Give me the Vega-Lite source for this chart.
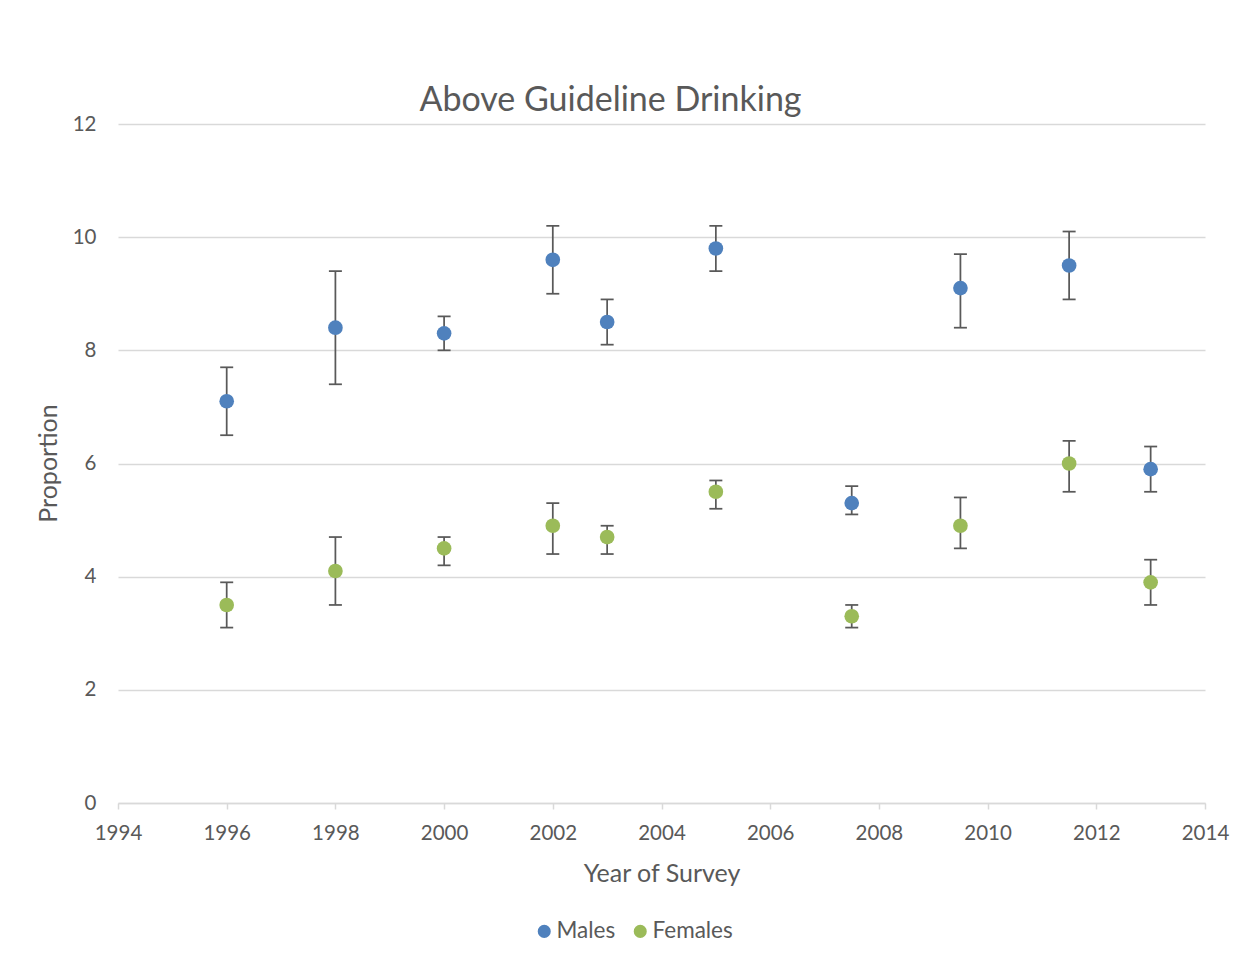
{
  "$schema": "https://vega.github.io/schema/vega-lite/v6.json",
  "width": 1087,
  "height": 679,
  "autosize": {"type": "none"},
  "padding": {"left": 118, "top": 124, "right": 50, "bottom": 163},
  "background": "white",
  "title": {"text": "Above Guideline Drinking", "fontSize": 34, "font": "Lato", "fontWeight": "normal", "color": "#595959", "anchor": "middle", "dx": -51, "offset": -4},
  "config": {"view": {"stroke": null}},
  "data": {"values": [
    {"year": 1996, "sex": "Males", "value": 7.1, "low": 6.5, "high": 7.7},
    {"year": 1998, "sex": "Males", "value": 8.4, "low": 7.4, "high": 9.4},
    {"year": 2000, "sex": "Males", "value": 8.3, "low": 8.0, "high": 8.6},
    {"year": 2002, "sex": "Males", "value": 9.6, "low": 9.0, "high": 10.2},
    {"year": 2003, "sex": "Males", "value": 8.5, "low": 8.1, "high": 8.9},
    {"year": 2005, "sex": "Males", "value": 9.8, "low": 9.4, "high": 10.2},
    {"year": 2007.5, "sex": "Males", "value": 5.3, "low": 5.1, "high": 5.6},
    {"year": 2009.5, "sex": "Males", "value": 9.1, "low": 8.4, "high": 9.7},
    {"year": 2011.5, "sex": "Males", "value": 9.5, "low": 8.9, "high": 10.1},
    {"year": 2013, "sex": "Males", "value": 5.9, "low": 5.5, "high": 6.3},
    {"year": 1996, "sex": "Females", "value": 3.5, "low": 3.1, "high": 3.9},
    {"year": 1998, "sex": "Females", "value": 4.1, "low": 3.5, "high": 4.7},
    {"year": 2000, "sex": "Females", "value": 4.5, "low": 4.2, "high": 4.7},
    {"year": 2002, "sex": "Females", "value": 4.9, "low": 4.4, "high": 5.3},
    {"year": 2003, "sex": "Females", "value": 4.7, "low": 4.4, "high": 4.9},
    {"year": 2005, "sex": "Females", "value": 5.5, "low": 5.2, "high": 5.7},
    {"year": 2007.5, "sex": "Females", "value": 3.3, "low": 3.1, "high": 3.5},
    {"year": 2009.5, "sex": "Females", "value": 4.9, "low": 4.5, "high": 5.4},
    {"year": 2011.5, "sex": "Females", "value": 6.0, "low": 5.5, "high": 6.4},
    {"year": 2013, "sex": "Females", "value": 3.9, "low": 3.5, "high": 4.3}
  ]},
  "encoding": {
    "x": {
      "field": "year", "type": "quantitative",
      "scale": {"domain": [1994, 2014], "nice": false, "zero": false},
      "axis": {
        "title": "Year of Survey", "values": [1994, 1996, 1998, 2000, 2002, 2004, 2006, 2008, 2010, 2012, 2014],
        "format": "d", "grid": false, "domainColor": "#d9d9d9", "domainWidth": 1.5, "tickColor": "#d9d9d9", "tickWidth": 1.5, "tickSize": 6,
        "labelFont": "Lato", "labelFontSize": 20.5, "labelColor": "#595959", "labelPadding": 14, "labelFlush": false,
        "titleFont": "Lato", "titleFontSize": 25, "titleFontWeight": "normal", "titleColor": "#595959",
        "titleY": 70, "titleBaseline": "middle"
      }
    }
  },
  "layer": [
    {
      "mark": {"type": "rule", "color": "#595959", "strokeWidth": 1.75},
      "encoding": {
        "y": {
          "field": "low", "type": "quantitative", "title": "Proportion",
          "scale": {"domain": [0, 12], "nice": false},
          "axis": {
            "title": "Proportion", "values": [0, 2, 4, 6, 8, 10, 12], "format": "d", "domain": false, "ticks": false,
            "grid": true, "gridColor": "#d9d9d9", "gridWidth": 1.5,
            "labelFont": "Lato", "labelFontSize": 20.5, "labelColor": "#595959", "labelPadding": 22,
            "titleFont": "Lato", "titleFontSize": 25, "titleFontWeight": "normal", "titleColor": "#595959",
            "titleX": -70, "titleY": 339, "titleAngle": -90, "titleAlign": "center", "titleBaseline": "middle"
          }
        },
        "y2": {"field": "high"}
      }
    },
    {
      "mark": {"type": "tick", "orient": "horizontal", "size": 13, "thickness": 1.75, "color": "#595959", "opacity": 1},
      "encoding": {"y": {"field": "low", "type": "quantitative", "title": "Proportion"}}
    },
    {
      "mark": {"type": "tick", "orient": "horizontal", "size": 13, "thickness": 1.75, "color": "#595959", "opacity": 1},
      "encoding": {"y": {"field": "high", "type": "quantitative", "title": "Proportion"}}
    },
    {
      "mark": {"type": "circle", "size": 215, "opacity": 1},
      "encoding": {
        "y": {"field": "value", "type": "quantitative", "title": "Proportion"},
        "color": {
          "field": "sex", "type": "nominal",
          "scale": {"domain": ["Males", "Females"], "range": ["#4F81BD", "#9BBB59"]},
          "legend": {
            "orient": "none", "legendX": 415, "legendY": 796, "direction": "horizontal", "title": null,
            "labelFont": "Lato", "labelFontSize": 22.5, "labelColor": "#595959", "symbolType": "circle",
            "symbolSize": 170, "symbolStrokeWidth": 0, "symbolOpacity": 1, "columnPadding": 13, "labelOffset": 1, "padding": 0
          }
        }
      }
    }
  ]
}
